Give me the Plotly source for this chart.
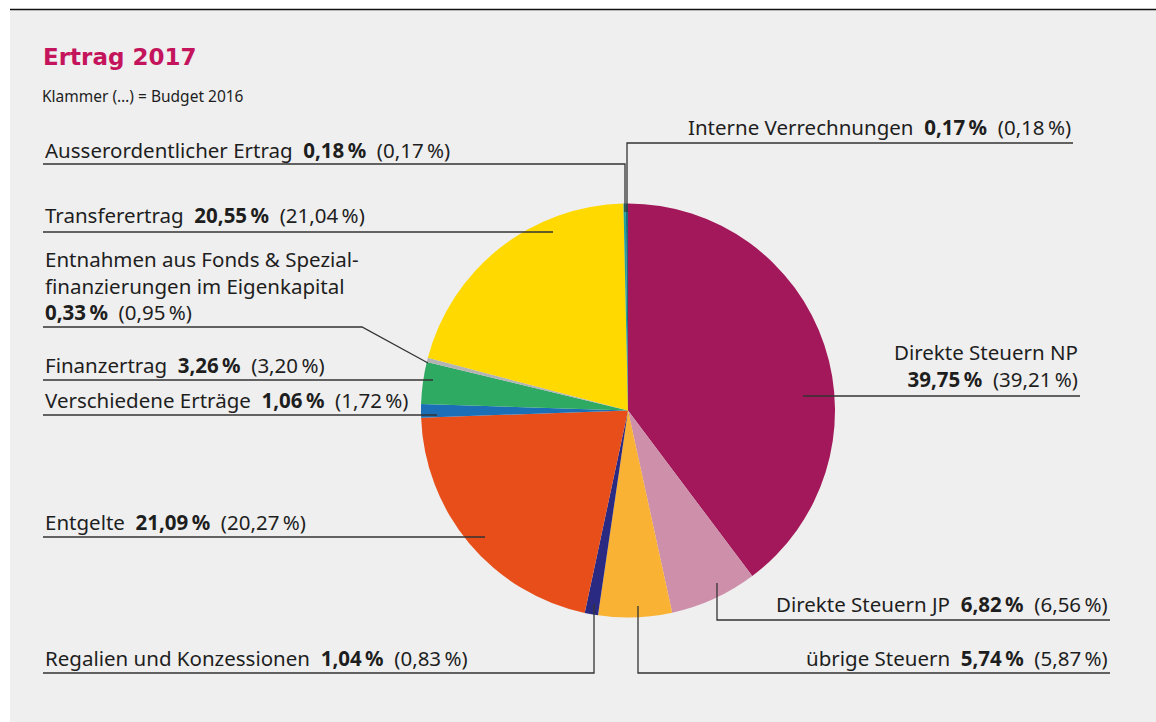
import plotly.graph_objects as go

# ---------------- data ----------------
categories = [
    "Direkte Steuern NP",
    "Direkte Steuern JP",
    "übrige Steuern",
    "Regalien und Konzessionen",
    "Entgelte",
    "Verschiedene Erträge",
    "Finanzertrag",
    "Entnahmen aus Fonds & Spezialfinanzierungen im Eigenkapital",
    "Transferertrag",
    "Ausserordentlicher Ertrag",
    "Interne Verrechnungen",
]
values_2017 = [39.75, 6.82, 5.74, 1.04, 21.09, 1.06, 3.26, 0.33, 20.55, 0.18, 0.17]
budget_2016 = [39.21, 6.56, 5.87, 0.83, 20.27, 1.72, 3.20, 0.95, 21.04, 0.17, 0.18]
colors = ["#a3185a", "#cd8fa9", "#f9b233", "#2b2a83", "#e84e1a", "#1b6fb6",
          "#2eaa62", "#b4b4b4", "#ffd900", "#22a0a0", "#1d6b7e"]

title_text = "Ertrag 2017"
subtitle_text = "Klammer (…) = Budget 2016"

W, H = 1156, 722
CX, CY, R = 628, 410.5, 207

FONT = "Noto Sans"
FS = 20.5
TXT = "#1e1e1e"
LINE = "#333333"


def pct(v):
    return f"{v:.2f}".replace(".", ",") + "\u202f%"


def val_text(i):
    return (f"<b>{pct(values_2017[i])}</b>\u00a0\u00a0({pct(budget_2016[i])})")


def full_text(i, name=None):
    return f"{name or categories[i]}\u00a0\u00a0" + val_text(i)


fig = go.Figure()

fig.add_trace(go.Pie(
    values=values_2017,
    labels=categories,
    sort=False,
    direction="clockwise",
    rotation=0,
    marker=dict(colors=colors, line=dict(width=0)),
    textinfo="none",
    hoverinfo="label+percent",
    showlegend=False,
    domain=dict(x=[(CX - R) / W, (CX + R) / W],
                y=[(H - CY - R) / H, (H - CY + R) / H]),
))

# invisible pixel-coordinate axes for annotations and leader lines
fig.add_trace(go.Scatter(x=[0, W], y=[0, H], mode="markers",
                         marker=dict(opacity=0), hoverinfo="skip", showlegend=False))

shapes = [
    dict(type="rect", xref="x", yref="y", x0=10, x1=W, y0=10, y1=H,
         fillcolor="#efefef", line=dict(width=0), layer="below"),
    dict(type="line", xref="x", yref="y", x0=10, x1=W, y0=9.5, y1=9.5,
         line=dict(color="#111111", width=1.6), layer="above"),
]


def poly(points):
    path = "M " + " L ".join(f"{x},{y}" for x, y in points)
    shapes.append(dict(type="path", xref="x", yref="y", path=path,
                       line=dict(color=LINE, width=1.3), layer="above"))


annotations = []


def label(x, baseline, text, anchor="left", size=FS, font=FONT, color=TXT):
    # baseline = baseline of the middle of the text block
    off = 0.388 * size if font == FONT else 0.346 * size
    annotations.append(dict(
        xref="x", yref="y", x=x, y=baseline - off, text=text,
        xanchor=anchor, yanchor="middle", showarrow=False, align=anchor,
        font=dict(family=font, size=size, color=color)))


# title
label(41, 64.7, f"<b>{title_text}</b>", size=23, font="DejaVu Sans", color="#c4145c")
label(40, 101.7, subtitle_text, size=15.5)

# left-hand labels
label(43, 158, full_text(9)); poly([(43, 164), (625, 164), (625, 212)])
label(43, 223, full_text(8)); poly([(43, 232), (553, 232)])
label(43, 293, "Entnahmen aus Fonds & Spezial-<br>finanzierungen im Eigenkapital<br>" + val_text(7))
poly([(43, 327), (362, 327), (428, 363)])
label(43, 373, full_text(6)); poly([(43, 380), (433, 380)])
label(43, 408, full_text(5)); poly([(43, 415), (437, 415)])
label(43, 530, full_text(4)); poly([(43, 537), (485, 537)])
label(43, 666, full_text(3)); poly([(43, 673), (594, 673), (594, 604)])

# right-hand labels
label(1073, 135, full_text(10), anchor="right"); poly([(1073, 143), (627, 143), (627, 212)])
label(1080, 373.5, categories[0] + "<br>" + val_text(0), anchor="right")
poly([(1080, 396), (803, 396)])
label(1110, 612, full_text(1), anchor="right"); poly([(1110, 620), (717, 620), (717, 583)])
label(1110, 666, full_text(2), anchor="right"); poly([(1110, 673), (638, 673), (638, 606)])

fig.update_layout(
    width=W, height=H,
    margin=dict(l=0, r=0, t=0, b=0),
    paper_bgcolor="white",
    plot_bgcolor="rgba(0,0,0,0)",
    xaxis=dict(range=[0, W], visible=False, fixedrange=True, domain=[0, 1]),
    yaxis=dict(range=[H, 0], visible=False, fixedrange=True, domain=[0, 1]),
    shapes=shapes,
    annotations=annotations,
    showlegend=False,
)

fig.write_html("out.html",
               config={"displayModeBar": False},
               post_script="document.body.style.margin='0';document.body.style.overflow='hidden';")
